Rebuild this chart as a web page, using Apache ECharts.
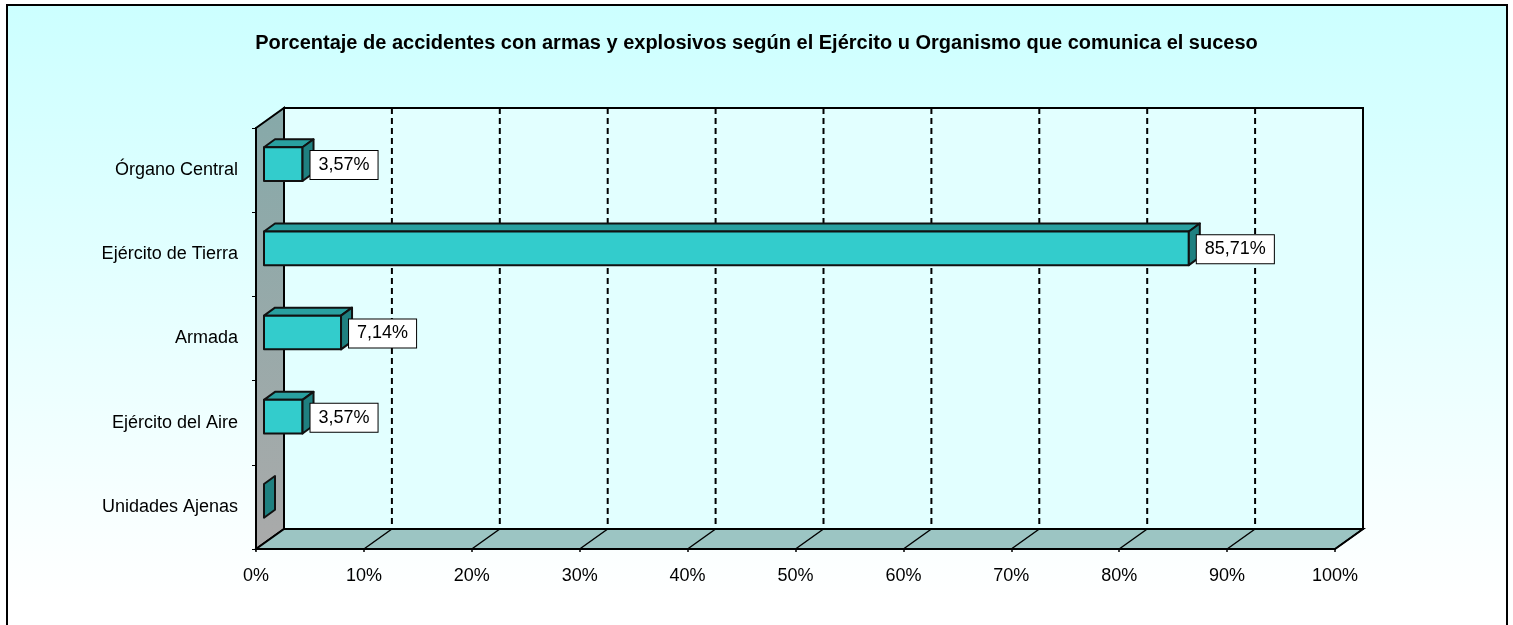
<!DOCTYPE html>
<html>
<head>
<meta charset="utf-8">
<script src="https://cdn.jsdelivr.net/npm/echarts@6/dist/echarts.min.js"></script>
<style>
html,body{margin:0;padding:0;background:#fff;}
#chart{width:1513px;height:625px;}
</style>
</head>
<body>
<div id="chart"></div>
<script>
const titleText = 'Porcentaje de accidentes con armas y explosivos según el Ejército u Organismo que comunica el suceso';
const categories = ['Órgano Central', 'Ejército de Tierra', 'Armada', 'Ejército del Aire', 'Unidades Ajenas'];
const values = [3.57, 85.71, 7.14, 3.57, 0];
const xTicks = [0, 10, 20, 30, 40, 50, 60, 70, 80, 90, 100];

const FONT = "'Liberation Sans', Arial, sans-serif";
const DEPTH = [28, -20];      // total depth of 3D box
const BAR_OFF = [8, -6];      // bar front face offset
const BAR_D = [11, -8];       // bar depth

const chart = echarts.init(document.getElementById('chart'), null, {renderer: 'canvas'});

function frameRender(params, api) {
  const n = categories.length;
  const bw = api.size([0, 1])[1];
  const a = api.coord([xTicks[0], 0]);
  const b = api.coord([xTicks[xTicks.length - 1], n - 1]);
  const L = a[0], R = b[0], T = a[1] - bw / 2, B = b[1] + bw / 2;
  const dx = DEPTH[0], dy = DEPTH[1];
  const children = [];
  children.push({type: 'polygon', shape: {points: [[L+dx, T+dy], [R+dx, T+dy], [R+dx, B+dy], [L+dx, B+dy]]},
    style: {fill: '#E2FFFF', stroke: '#000', lineWidth: 2}});
  children.push({type: 'polygon', shape: {points: [[L, T], [L+dx, T+dy], [L+dx, B+dy], [L, B]]},
    style: {fill: new echarts.graphic.LinearGradient(0, 0, 0, 1, [{offset: 0, color: '#86A9A9'}, {offset: 1, color: '#AAAAAA'}]), stroke: '#000', lineWidth: 2}});
  children.push({type: 'polygon', shape: {points: [[L, B], [L+dx, B+dy], [R+dx, B+dy], [R, B]]},
    style: {fill: '#9CC5C3', stroke: '#000', lineWidth: 2}});
  xTicks.forEach(function (t, i) {
    const p = api.coord([t, 0]);
    if (i > 0 && i < xTicks.length - 1) {
      children.push({type: 'line', shape: {x1: p[0]+dx, y1: T+dy, x2: p[0]+dx, y2: B+dy},
        style: {stroke: '#000', lineWidth: 2, lineDash: [6, 4]}});
    }
    if (i > 0) {
      children.push({type: 'line', shape: {x1: p[0], y1: B, x2: p[0]+dx, y2: B+dy},
        style: {stroke: '#000', lineWidth: 1.5}});
    }
  });
  return {type: 'group', children: children};
}

function barRender(params, api) {
  const v = api.value(0), idx = api.value(1);
  const s = api.coord([0, idx]);
  const e = api.coord([v, idx]);
  const bh = api.size([0, 1])[1] * 0.4;
  const x0 = s[0] + BAR_OFF[0], x1 = e[0] + BAR_OFF[0];
  const yc = s[1] + BAR_OFF[1];
  const yt = yc - bh / 2, yb = yc + bh / 2;
  const bx = BAR_D[0], by = BAR_D[1];
  const st = {stroke: '#111', lineWidth: 2, lineJoin: 'round'};
  const children = [];
  if (x1 > x0) {
    children.push({type: 'polygon', shape: {points: [[x0, yt], [x1, yt], [x1+bx, yt+by], [x0+bx, yt+by]]},
      style: Object.assign({fill: '#29A0A0'}, st)});
    children.push({type: 'rect', shape: {x: x0, y: yt, width: x1 - x0, height: bh},
      style: Object.assign({fill: '#33CCCC'}, st)});
  }
  children.push({type: 'polygon', shape: {points: [[x1, yt], [x1+bx, yt+by], [x1+bx, yb+by], [x1, yb]]},
    style: Object.assign({fill: '#1F8080'}, st)});
  if (v > 0) {
    children.push({type: 'text', x: x1 + 8, y: yc + 1,
      style: {text: v.toFixed(2).replace('.', ',') + '%', font: '18px ' + FONT, fill: '#000',
        verticalAlign: 'middle', align: 'left', backgroundColor: '#fff', borderColor: '#000', borderWidth: 1,
        padding: [6, 8, 4, 8]}});
  }
  return {type: 'group', children: children};
}

const option = {
  animation: false,
  backgroundColor: 'transparent',
  graphic: [{
    type: 'rect', z: -100, silent: true,
    shape: {x: 7, y: 5, width: 1500, height: 660},
    style: {fill: new echarts.graphic.LinearGradient(0, 0, 0, 1, [{offset: 0, color: '#CCFFFF'}, {offset: 0.9, color: '#FFFFFF'}, {offset: 1, color: '#FFFFFF'}]),
      stroke: '#000', lineWidth: 2}
  }],
  title: {
    text: titleText, left: 'center', top: 28,
    textStyle: {fontFamily: FONT, fontSize: 20, fontWeight: 'bold', color: '#000'}
  },
  grid: {left: 256, right: 178, top: 128, bottom: 76, containLabel: false},
  xAxis: {
    type: 'value', min: 0, max: 100, interval: 10,
    axisLine: {show: true, lineStyle: {color: '#000', width: 2}},
    axisTick: {show: true, length: 3, lineStyle: {color: '#000', width: 1.5}},
    splitLine: {show: false},
    axisLabel: {formatter: '{value}%', fontFamily: FONT, fontSize: 18, color: '#000', margin: 18}
  },
  yAxis: {
    type: 'category', data: categories, inverse: true,
    axisLine: {show: true, lineStyle: {color: '#000', width: 2}},
    axisTick: {show: true, length: 4, lineStyle: {color: '#000', width: 1}},
    splitLine: {show: false},
    axisLabel: {fontFamily: FONT, fontSize: 18, color: '#000', margin: 18, padding: [4, 0, 0, 0]}
  },
  series: [
    {type: 'custom', name: 'frame', z: 1, clip: false, silent: true, renderItem: frameRender, data: [[0, 0]]},
    {type: 'custom', name: 'bars', z: 3, clip: false, renderItem: barRender,
      data: values.map(function (v, i) { return [v, i]; })}
  ]
};
chart.setOption(option);
</script>
</body>
</html>
